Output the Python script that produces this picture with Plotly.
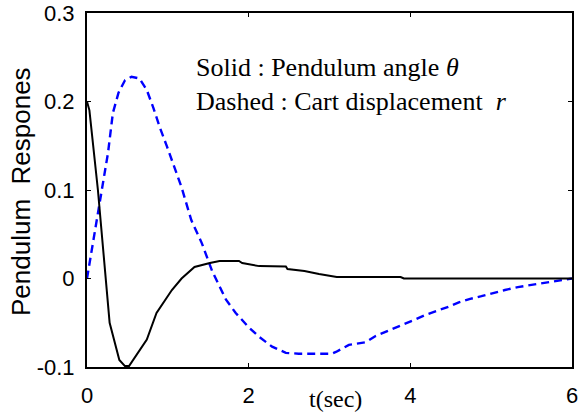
import plotly.graph_objects as go

# Solid: pendulum angle theta
t_theta = [0, 0.03, 0.135, 0.28, 0.40, 0.47, 0.52, 0.59, 0.74, 0.86, 1.05, 1.17, 1.33, 1.52,
           1.64, 1.88, 1.92, 2.13, 2.46, 2.48, 2.69, 2.87, 3.09, 3.88, 3.92, 6.0]
theta = [0.2, 0.19, 0.10, -0.05, -0.092, -0.099, -0.099, -0.089, -0.069, -0.039, -0.013, 0.0,
         0.013, 0.0175, 0.0198, 0.0198, 0.0175, 0.014, 0.0136, 0.0107, 0.0085, 0.005, 0.0017,
         0.0017, 0.0, 0.0]

# Dashed: cart displacement r
t_r = [0, 0.075, 0.16, 0.26, 0.32, 0.39, 0.47, 0.55, 0.65, 0.74, 0.82, 0.90, 0.99, 1.08, 1.17,
       1.29, 1.42, 1.55, 1.64, 1.72, 1.84, 2.0, 2.13, 2.29, 2.46, 2.62, 3.03, 3.08, 3.24, 3.45,
       3.57, 3.65, 3.82, 4.04, 4.19, 4.35, 4.47, 4.6, 4.74, 4.88, 5.0, 5.17, 5.33, 5.5, 5.67,
       5.83, 6.0]
r = [0, 0.04, 0.089, 0.142, 0.187, 0.21, 0.224, 0.228, 0.226, 0.213, 0.193, 0.171, 0.149,
     0.126, 0.103, 0.066, 0.04, 0.008, -0.0096, -0.024, -0.039, -0.055, -0.066, -0.077, -0.084,
     -0.085, -0.085, -0.083, -0.075, -0.072, -0.065, -0.062, -0.056, -0.047, -0.041, -0.036,
     -0.032, -0.027, -0.023, -0.02, -0.017, -0.013, -0.0097, -0.0073, -0.005, -0.002, 0.0]

x_ticks = [0, 2, 4, 6]
y_ticks = [-0.1, 0, 0.1, 0.2, 0.3]
y_tick_labels = ["-0.1", "0", "0.1", "0.2", "0.3"]

fig = go.Figure()
fig.add_trace(go.Scatter(x=t_r, y=r, mode="lines",
                         line=dict(color="#0000ff", width=2.4, dash="8px,5px"),
                         showlegend=False))
fig.add_trace(go.Scatter(x=t_theta, y=theta, mode="lines",
                         line=dict(color="black", width=2),
                         showlegend=False))

axis_common = dict(showline=True, linecolor="black", linewidth=2, mirror="ticks",
                   ticks="inside", ticklen=4, tickcolor="black", tickwidth=1,
                   showgrid=False, zeroline=False, automargin=False,
                   tickfont=dict(family="Liberation Sans, Arial", size=22, color="black"))

fig.update_xaxes(range=[0, 6], tickvals=x_ticks, ticktext=[str(v) for v in x_ticks],
                 ticklabelstandoff=8, **axis_common)
fig.update_yaxes(range=[-0.1, 0.3], tickvals=y_ticks, ticktext=y_tick_labels,
                 ticklabelstandoff=6, **axis_common)

serif = dict(family="Liberation Serif, Times New Roman", size=26, color="black")
anns = [
    dict(text="Solid : Pendulum angle <i>θ</i>", x=194, y=67),
    dict(text="Dashed : Cart displacement  <i>r</i>", x=194, y=101),
]
W, H = 579, 417
L, R, T, B = 87, 7, 13, 50
pw, ph = W - L - R, H - T - B
annotations = []
for a in anns:
    annotations.append(dict(text=a["text"], xref="paper", yref="paper",
                            x=(a["x"] - L) / pw, y=1 - (a["y"] - T) / ph,
                            xanchor="left", yanchor="middle", showarrow=False, font=serif))
annotations.append(dict(text="t(sec)", xref="paper", yref="paper",
                        x=(335 - L) / pw, y=1 - (399 - T) / ph, xanchor="center",
                        yanchor="middle", showarrow=False,
                        font=dict(family="Liberation Serif, Times New Roman", size=24,
                                  color="black")))
annotations.append(dict(text="Pendulum  Respones", xref="paper", yref="paper",
                        x=(21 - L) / pw, y=1 - (192 - T) / ph, xanchor="center",
                        yanchor="middle", showarrow=False, textangle=-90,
                        font=dict(family="Liberation Sans, Arial", size=26, color="black")))

fig.update_layout(width=W, height=H, margin=dict(l=L, r=R, t=T, b=B),
                  paper_bgcolor="white", plot_bgcolor="white",
                  annotations=annotations)

fig.write_html("out.html", config={"displayModeBar": False},
               post_script="document.body.style.margin='0';document.body.style.overflow='hidden';")
